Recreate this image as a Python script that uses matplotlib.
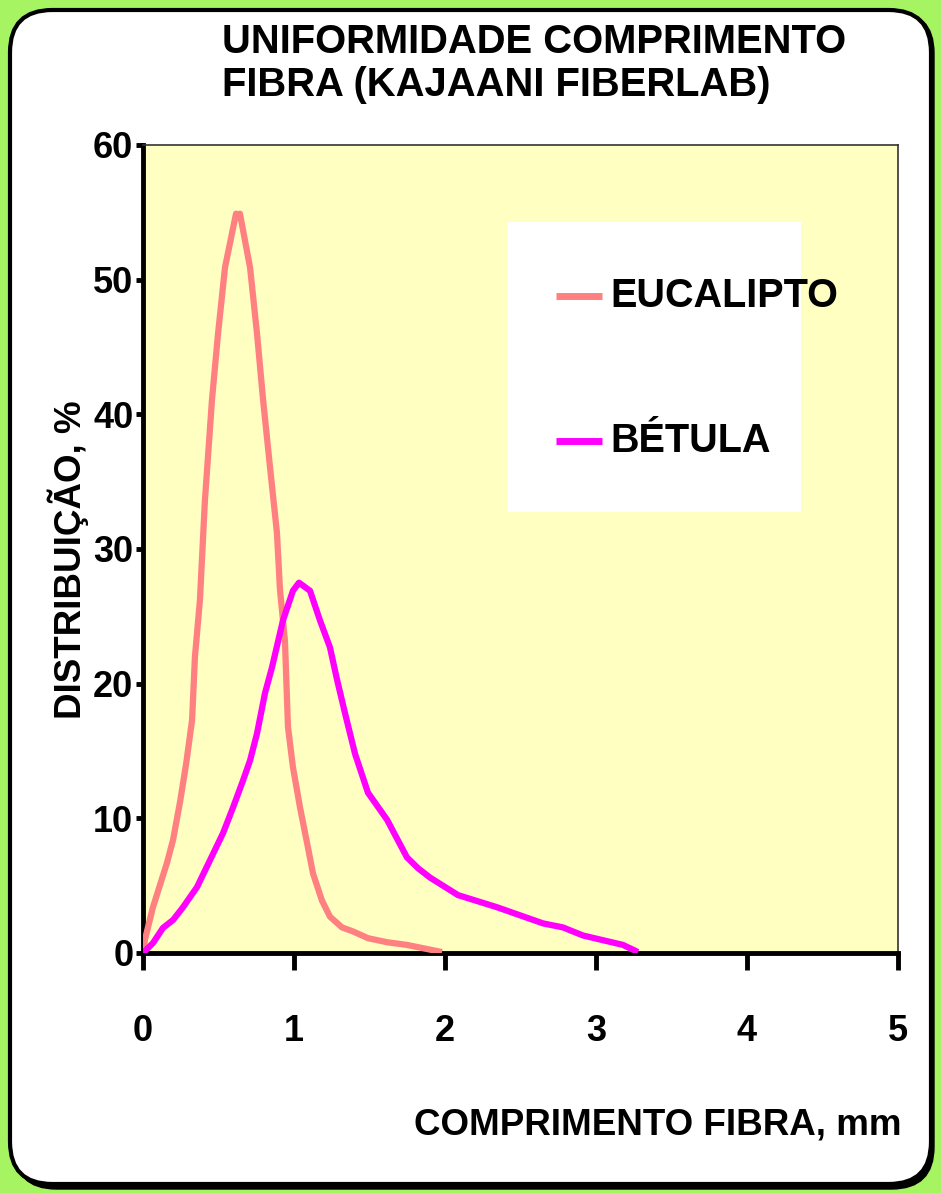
import matplotlib
matplotlib.use("Agg")
import matplotlib.pyplot as plt
from matplotlib.patches import FancyBboxPatch, Rectangle

title_lines = ["UNIFORMIDADE COMPRIMENTO", "FIBRA (KAJAANI FIBERLAB)"]
xlabel = "COMPRIMENTO FIBRA, mm"
ylabel = "DISTRIBUIÇÃO, %"
xticks = [0, 1, 2, 3, 4, 5]
yticks = [0, 10, 20, 30, 40, 50, 60]

euc_x = [0, 0.013, 0.066, 0.159, 0.199, 0.245, 0.285, 0.325, 0.344, 0.377, 0.41, 0.457,
         0.497, 0.543, 0.616, 0.629, 0.642, 0.709, 0.755, 0.795, 0.841, 0.887, 0.907,
         0.940, 0.960, 0.993, 1.040, 1.086, 1.126, 1.185, 1.238, 1.318, 1.391, 1.490,
         1.616, 1.748, 1.98]
euc_y = [0, 1.0, 3.4, 6.7, 8.4, 11.2, 14.0, 17.3, 22.0, 26.2, 33.6, 41.1,
         46.0, 50.9, 54.9, 54.6, 54.9, 50.9, 46.0, 41.1, 36.1, 31.2, 27.0,
         23.2, 16.8, 13.8, 10.8, 8.2, 5.9, 3.9, 2.7, 1.9, 1.6, 1.1,
         0.8, 0.6, 0.07]

bet_x = [0, 0.066, 0.132, 0.199, 0.265, 0.358, 0.444, 0.530, 0.596, 0.662, 0.709, 0.755,
         0.808, 0.854, 0.927, 0.993, 1.033, 1.106, 1.172, 1.238, 1.285, 1.338, 1.404,
         1.490, 1.616, 1.748, 1.821, 1.901, 2.086, 2.344, 2.649, 2.781, 2.914, 3.179, 3.278]
bet_y = [0, 0.74, 1.86, 2.45, 3.4, 4.9, 6.9, 8.9, 10.8, 12.8, 14.3, 16.3,
         19.3, 21.2, 24.7, 26.9, 27.5, 26.9, 24.7, 22.7, 20.3, 17.8, 14.8,
         11.9, 9.9, 7.1, 6.3, 5.6, 4.3, 3.4, 2.2, 1.9, 1.3, 0.6, 0.07]

W, H = 941, 1193
plt.rcParams['font.family'] = ['Liberation Sans', 'DejaVu Sans']
fig = plt.figure(figsize=(W / 100, H / 100), dpi=100)
fig.patch.set_facecolor("#a6f462")

# shadow + rounded white panel
shadow = FancyBboxPatch((14 / W, 4 / H), 920 / W, 1178 / H,
                        boxstyle="round,pad=0,rounding_size=0.045",
                        transform=fig.transFigure, facecolor="black", edgecolor="black",
                        mutation_aspect=W / H, zorder=-2)
fig.patches.append(shadow)
panel = FancyBboxPatch((10 / W, 9 / H), 921 / W, 1174 / H,
                       boxstyle="round,pad=0,rounding_size=0.045",
                       transform=fig.transFigure, facecolor="white", edgecolor="black",
                       linewidth=3, mutation_aspect=W / H, zorder=-1)
fig.patches.append(panel)

left, right, top, bottom = 143, 898, 145, 953
ax = fig.add_axes([left / W, 1 - bottom / H, (right - left) / W, (bottom - top) / H])
ax.set_zorder(2)
ax.set_facecolor("#ffffc2")
ax.set_xlim(0, 5)
ax.set_ylim(0, 60)

ax.plot(euc_x, euc_y, color="#ff8080", lw=4.5, solid_joinstyle="round",
        solid_capstyle="butt", label="EUCALIPTO", zorder=3)
ax.plot(bet_x, bet_y, color="#ff00ff", lw=4.5, solid_joinstyle="round",
        solid_capstyle="butt", label="BÉTULA", zorder=3)

for s in ["left", "bottom"]:
    ax.spines[s].set_linewidth(3.5)
    ax.spines[s].set_color("black")
for s in ["top", "right"]:
    ax.spines[s].set_linewidth(1.2)
    ax.spines[s].set_color("#333333")

ax.set_xticks(xticks)
ax.set_yticks(yticks)
ax.set_xticklabels([str(t) for t in xticks], fontsize=26, fontweight="bold")
ax.set_yticklabels([str(t) for t in yticks], fontsize=26, fontweight="bold")
ax.tick_params(axis="x", direction="out", length=12, width=3.5, pad=32)
ax.tick_params(axis="y", direction="out", length=5, width=3.5, pad=2)

fig.text(68 / W, 1 - 560 / H, ylabel, rotation=90, ha="center", va="center",
         fontsize=26.5, fontweight="bold")
fig.text(901 / W, 1 - 1125 / H, xlabel, ha="right", va="center", fontsize=26.5, fontweight="bold")
fig.text(222 / W, 1 - 42 / H, title_lines[0], ha="left", va="center", fontsize=28.8, fontweight="bold")
fig.text(222 / W, 1 - 85 / H, title_lines[1], ha="left", va="center", fontsize=28.8, fontweight="bold")

# legend box
leg_box = Rectangle((508 / W, 1 - 512 / H), (801 - 508) / W, (512 - 222) / H,
                    transform=fig.transFigure, facecolor="white", edgecolor="none", zorder=4)
leg_box.set_clip_on(False)
ax.add_artist(leg_box)
for yy, lab, col in [(296, "EUCALIPTO", "#ff8080"), (441, "BÉTULA", "#ff00ff")]:
    ax.plot([556 / W, 602 / W], [1 - yy / H, 1 - yy / H], transform=fig.transFigure,
            color=col, lw=5, solid_capstyle="butt", zorder=5, clip_on=False)
    ax.text(610 / W, 1 - yy / H, lab, ha="left", va="center", fontsize=28.5,
            fontweight="bold", zorder=6, transform=fig.transFigure)

fig.savefig("out.png", dpi=100, facecolor=fig.get_facecolor())
